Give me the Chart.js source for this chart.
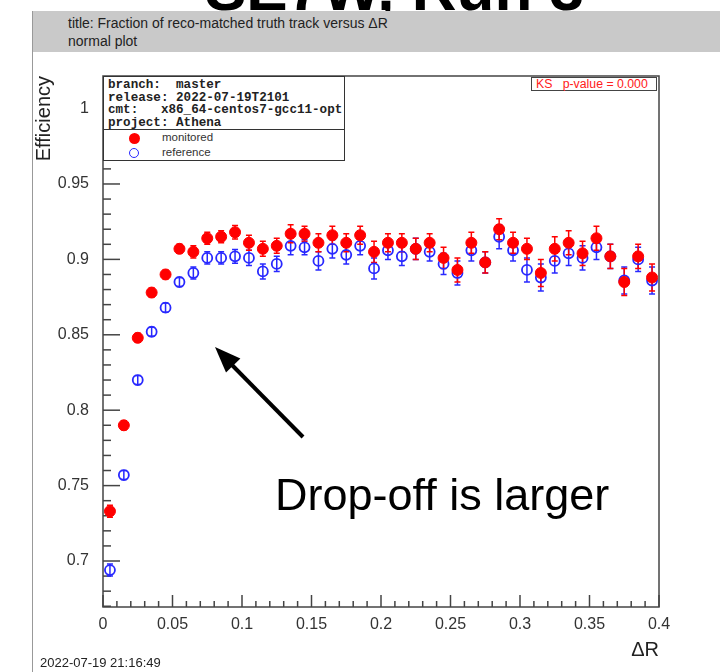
<!DOCTYPE html>
<html><head><meta charset="utf-8">
<script src="https://cdn.jsdelivr.net/npm/chart.js@4.4.1/dist/chart.umd.min.js"></script>
<style>
body{margin:0;background:#fff;}
#wrap{position:relative;width:720px;height:672px;overflow:hidden;font-family:'Liberation Sans',Arial,sans-serif;background:#fff;}
#c{position:absolute;left:0;top:0;}
#slideTitle{position:absolute;left:205px;top:-42px;font:bold 62px/62px 'Liberation Sans',Arial,sans-serif;color:#000;white-space:nowrap;}
#band{position:absolute;left:33px;top:11px;width:687px;height:41px;background:#c9c9c9;}
#band div{position:absolute;left:35px;font-size:14px;color:#222;white-space:nowrap;}
#vline{position:absolute;left:32px;top:11px;width:0;height:661px;border-left:1.5px solid #999;}
#stamp{position:absolute;left:40px;top:655px;font-size:13px;color:#222;white-space:nowrap;}
#leg{position:absolute;left:103px;top:76px;width:242px;height:85px;background:#fff;border:1.5px solid #333;box-sizing:border-box;}
#info{position:absolute;left:4px;top:2px;font:bold 12.6px/12.6px 'Liberation Mono','Courier New',monospace;color:#222;white-space:pre;}
#sep{position:absolute;left:0;top:52px;width:100%;height:0;border-top:1.5px solid #333;}
.ent{position:absolute;left:58px;font-size:11.5px;color:#333;white-space:nowrap;}
.mk{position:absolute;border-radius:50%;box-sizing:border-box;}
#ks{position:absolute;left:531px;top:77px;width:126px;height:14px;border:1px solid #444;box-sizing:border-box;background:#fff;color:#ff2020;font-size:12.3px;line-height:12px;white-space:pre;padding-left:4px;}
#note{position:absolute;left:275px;top:472px;font:45px/45px 'Liberation Sans',Arial,sans-serif;color:#000;white-space:nowrap;}
svg{position:absolute;left:0;top:0;}
</style></head>
<body>
<div id="wrap">
  <div id="slideTitle">SE7W, Run 3</div>
  <div id="band"><div style="top:4px">title: Fraction of reco-matched truth track versus ΔR</div><div style="top:22px">normal plot</div></div>
  <div id="vline"></div>
  <canvas id="c" width="720" height="672"></canvas>
  <div id="leg">
    <div id="info">branch:  master
release: 2022-07-19T2101
cmt:   x86_64-centos7-gcc11-opt
project: Athena</div>
    <div id="sep"></div>
    <div class="mk" style="left:25px;top:56px;width:11px;height:11px;background:#ff0000;"></div>
    <div class="ent" style="top:54px">monitored</div>
    <div class="mk" style="left:25px;top:71px;width:10px;height:10px;border:1.8px solid #2828ff;"></div>
    <div class="ent" style="top:69px">reference</div>
  </div>
  <div id="ks">KS   p-value = 0.000</div>
  <svg width="720" height="672">
    <line x1="303" y1="437" x2="232" y2="365" stroke="#000" stroke-width="4"/>
    <polygon points="215,347 240.4,358.6 226,372.6" fill="#000"/>
  </svg>
  <div id="note">Drop-off is larger</div>
  <div id="stamp">2022-07-19 21:16:49</div>
</div>
<script>
// ---- data ----
const binCenters = [0.005,0.015,0.025,0.035,0.045,0.055,0.065,0.075,0.085,0.095,
  0.105,0.115,0.125,0.135,0.145,0.155,0.165,0.175,0.185,0.195,
  0.205,0.215,0.225,0.235,0.245,0.255,0.265,0.275,0.285,0.295,
  0.305,0.315,0.325,0.335,0.345,0.355,0.365,0.375,0.385,0.395];
const monitoredEff = [0.733,0.790,0.848,0.878,0.890,0.907,0.905,0.914,0.915,0.918,
  0.911,0.907,0.909,0.917,0.917,0.911,0.916,0.911,0.916,0.905,
  0.911,0.911,0.907,0.911,0.901,0.893,0.911,0.898,0.920,0.911,
  0.907,0.891,0.907,0.911,0.904,0.914,0.902,0.885,0.902,0.888];
const monitoredErr = [0.004,0.003,0.003,0.003,0.003,0.003,0.004,0.004,0.004,0.0045,
  0.005,0.005,0.005,0.006,0.005,0.006,0.006,0.006,0.006,0.007,
  0.006,0.006,0.007,0.006,0.007,0.008,0.007,0.007,0.007,0.007,
  0.007,0.009,0.008,0.008,0.008,0.008,0.008,0.009,0.008,0.009];
const referenceEff = [0.694,0.757,0.820,0.852,0.868,0.885,0.891,0.901,0.901,0.902,
  0.901,0.892,0.897,0.909,0.908,0.899,0.907,0.903,0.909,0.894,
  0.906,0.902,0.907,0.905,0.897,0.891,0.906,0.898,0.915,0.906,
  0.893,0.888,0.899,0.904,0.901,0.908,0.902,0.886,0.900,0.886];
const referenceErr = [0.004,0.003,0.003,0.003,0.003,0.003,0.004,0.004,0.004,0.0045,
  0.005,0.005,0.005,0.006,0.005,0.006,0.006,0.006,0.006,0.007,
  0.006,0.006,0.007,0.006,0.007,0.008,0.007,0.007,0.008,0.007,
  0.008,0.009,0.008,0.008,0.008,0.008,0.008,0.009,0.008,0.009];
const xTickValues = [0,0.05,0.1,0.15,0.2,0.25,0.3,0.35,0.4];
const yTickValues = [0.7,0.75,0.8,0.85,0.9,0.95,1.0];

const monColor = '#ff0000';
const refColor = '#2828ff';

const pts = (xs, ys) => xs.map((x, i) => ({x: x, y: ys[i]}));

const frameAndErrors = {
  id: 'frameAndErrors',
  beforeDatasetsDraw(chart) {
    const ctx = chart.ctx, xs = chart.scales.x, ys = chart.scales.y, a = chart.chartArea;
    ctx.save();
    ctx.strokeStyle = '#444'; ctx.lineWidth = 1.5;
    ctx.strokeRect(a.left, a.top, a.right - a.left, a.bottom - a.top);
    for (let k = 67; k <= 102; k++) {
      const v = k / 100, py = ys.getPixelForValue(v);
      if (py < a.top || py > a.bottom) continue;
      const major = k % 5 === 0;
      ctx.beginPath(); ctx.moveTo(a.left, py); ctx.lineTo(a.left + (major ? 17 : 8), py); ctx.stroke();
    }
    for (let k = 0; k <= 40; k++) {
      const px = xs.getPixelForValue(k / 100);
      const major = k % 5 === 0;
      ctx.beginPath(); ctx.moveTo(px, a.bottom); ctx.lineTo(px, a.bottom - (major ? 12 : 6)); ctx.stroke();
    }
    const sets = [[referenceEff, referenceErr, refColor], [monitoredEff, monitoredErr, monColor]];
    sets.forEach(([vals, errs, col]) => {
      ctx.strokeStyle = col; ctx.lineWidth = 1.5;
      vals.forEach((v, i) => {
        const px = xs.getPixelForValue(binCenters[i]);
        const y1 = ys.getPixelForValue(v - errs[i]), y2 = ys.getPixelForValue(v + errs[i]);
        ctx.beginPath();
        ctx.moveTo(px, y1); ctx.lineTo(px, y2);
        ctx.moveTo(px - 3, y1); ctx.lineTo(px + 3, y1);
        ctx.moveTo(px - 3, y2); ctx.lineTo(px + 3, y2);
        ctx.stroke();
      });
    });
    ctx.restore();
  }
};

const fmt = v => String(Number(v.toFixed(3)));

new Chart(document.getElementById('c'), {
  type: 'scatter',
  data: {
    datasets: [
      {label: 'monitored', data: pts(binCenters, monitoredEff), pointStyle: 'circle', pointRadius: 5.5,
       backgroundColor: monColor, borderColor: monColor, borderWidth: 1},
      {label: 'reference', data: pts(binCenters, referenceEff), pointStyle: 'circle', pointRadius: 5,
       backgroundColor: 'rgba(0,0,0,0)', borderColor: refColor, borderWidth: 1.8}
    ]
  },
  options: {
    responsive: false, animation: false, devicePixelRatio: 1,
    layout: {padding: {left: 32, top: 76, right: 61, bottom: 0}},
    plugins: {legend: {display: false}, tooltip: {enabled: false}},
    scales: {
      x: {
        type: 'linear', min: 0, max: 0.4,
        grid: {display: false, drawTicks: false}, border: {display: false},
        afterBuildTicks: s => { s.ticks = xTickValues.map(v => ({value: v})); },
        afterFit: s => { s.height = 65; },
        ticks: {padding: 8, maxRotation: 0, autoSkip: false, color: '#333',
                font: {family: "'Liberation Sans', Arial, sans-serif", size: 16}, callback: v => fmt(v)},
        title: {display: true, text: 'ΔR', align: 'end', color: '#222', padding: {top: 0, bottom: 10},
                font: {family: "'Liberation Sans', Arial, sans-serif", size: 20}}
      },
      y: {
        type: 'linear', min: 0.6695, max: 1.0216,
        grid: {display: false, drawTicks: false}, border: {display: false},
        afterBuildTicks: s => { s.ticks = yTickValues.map(v => ({value: v})); },
        afterFit: s => { s.width = 71; },
        ticks: {padding: 14, autoSkip: false, color: '#333',
                font: {family: "'Liberation Sans', Arial, sans-serif", size: 16}, callback: v => fmt(v)},
        title: {display: true, text: 'Efficiency', align: 'end', color: '#222', padding: {top: 0, bottom: 0},
                font: {family: "'Liberation Sans', Arial, sans-serif", size: 20}}
      }
    }
  },
  plugins: [frameAndErrors]
});
</script>
</body></html>
